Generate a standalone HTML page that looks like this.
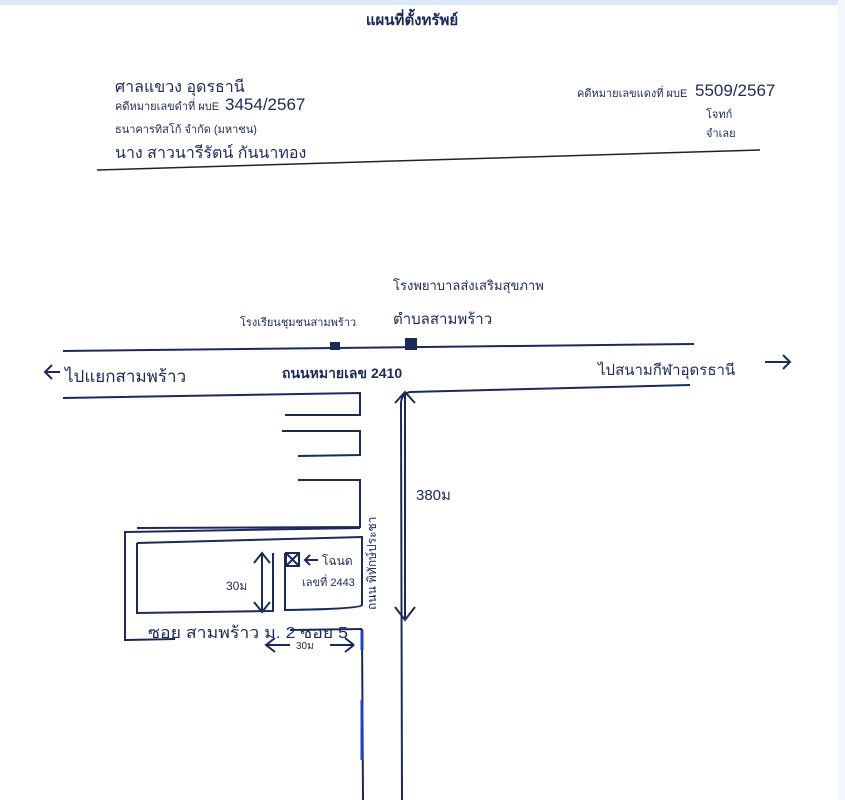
<!DOCTYPE html>
<html><head><meta charset="utf-8"><style>
html,body{margin:0;padding:0;background:#fff;}
svg{display:block;}
text{font-family:"Liberation Sans","DejaVu Sans",sans-serif;fill:#1c2a5a;}
</style></head><body>
<svg width="845" height="800" viewBox="0 0 845 800" xmlns="http://www.w3.org/2000/svg">
<rect x="0" y="0" width="845" height="5" fill="#dbe8f7"/>
<rect x="838" y="0" width="7" height="800" fill="#f3f7fc"/>
<text x="412" y="25" font-size="15" font-weight="bold" fill="#111" text-anchor="middle">แผนที่ตั้งทรัพย์</text>
<text x="115" y="92" font-size="16">ศาลแขวง อุดรธานี</text>
<text x="115" y="110" font-size="11" fill="#222">คดีหมายเลขดำที่ ผบE</text>
<text x="225" y="110" font-size="17">3454/2567</text>
<text x="115" y="133" font-size="11" fill="#222">ธนาคารทิสโก้ จำกัด (มหาชน)</text>
<text x="115" y="158" font-size="16">นาง สาวนารีรัตน์ กันนาทอง</text>
<text x="577" y="97" font-size="11" fill="#222">คดีหมายเลขแดงที่ ผบE</text>
<text x="695" y="96" font-size="17">5509/2567</text>
<text x="706" y="118" font-size="11" fill="#222">โจทก์</text>
<text x="706" y="137" font-size="11" fill="#222">จำเลย</text>
<path d="M97 170 L760 150" stroke="#222" stroke-width="1.5"/>
<g stroke="#1c2a5a" stroke-width="2" fill="none">
<path d="M63 351 L694 344"/>
<path d="M63 398 L360 393 L360 415 L285 415"/>
<path d="M282 431 L360 431 L360 455 L298 456"/>
<path d="M298 480 L360 480 L360 527 L137 528"/>
<path d="M360 528 L125 532 L125 640 L175 639"/>
<path d="M290 630 L362 629"/>
<path d="M137 543 L362 537 L362 605 Q360 609 285 610 L285 553"/>
<path d="M137 543 L137 613 L273 611 L273 553"/>
<path d="M362 629 L363 800"/>
<path d="M690 385 L410 392 Q401 394 401 404 L402 800"/>
<path d="M405 392 L405 620 M395 403 L405 392 L415 403 M395 607 L405 620 L415 607"/>
<path d="M262 553 L262 612 M254 563 L262 553 L270 563 M254 602 L262 612 L270 602"/>
<path d="M266 645 L290 645 M330 645 L354 645 M275 638 L266 645 L275 652 M345 638 L354 645 M345 652 L354 645"/>
<path d="M60 372 L45 372 M52 365 L45 372 L52 379"/>
<path d="M765 362 L790 362 M783 355 L790 362 L783 369"/>
<rect x="286" y="553" width="13" height="13"/>
<path d="M286 553 L299 566 M299 553 L286 566"/>
<path d="M318 560 L305 560 M310 555 L305 560 L310 565"/>
</g>
<rect x="330" y="342" width="10" height="8" fill="#1c2a5a"/>
<rect x="405" y="338" width="12" height="12" fill="#1c2a5a"/>
<path d="M362 630 L362 650 M362 700 L362 760" stroke="#2040c0" stroke-width="3"/>
<text x="393" y="290" font-size="13">โรงพยาบาลส่งเสริมสุขภาพ</text>
<text x="240" y="326" font-size="11">โรงเรียนชุมชนสามพร้าว</text>
<text x="393" y="324" font-size="15">ตำบลสามพร้าว</text>
<text x="65" y="382" font-size="17">ไปแยกสามพร้าว</text>
<text x="282" y="378" font-size="14" font-weight="bold">ถนนหมายเลข 2410</text>
<text x="598" y="375" font-size="15">ไปสนามกีฬาอุดรธานี</text>
<text x="416" y="500" font-size="15">380ม</text>
<text x="226" y="590" font-size="12">30ม</text>
<text x="322" y="565" font-size="12">โฉนด</text>
<text x="302" y="586" font-size="11">เลขที่ 2443</text>
<text x="148" y="638" font-size="16" textLength="200" lengthAdjust="spacingAndGlyphs">ซอย สามพร้าว ม. 2 ซอย 5</text>
<text x="296" y="649" font-size="10">30ม</text>
<text transform="translate(376,610) rotate(-90)" font-size="12">ถนน พิทักษ์ประชา</text>
</svg>
</body></html>
